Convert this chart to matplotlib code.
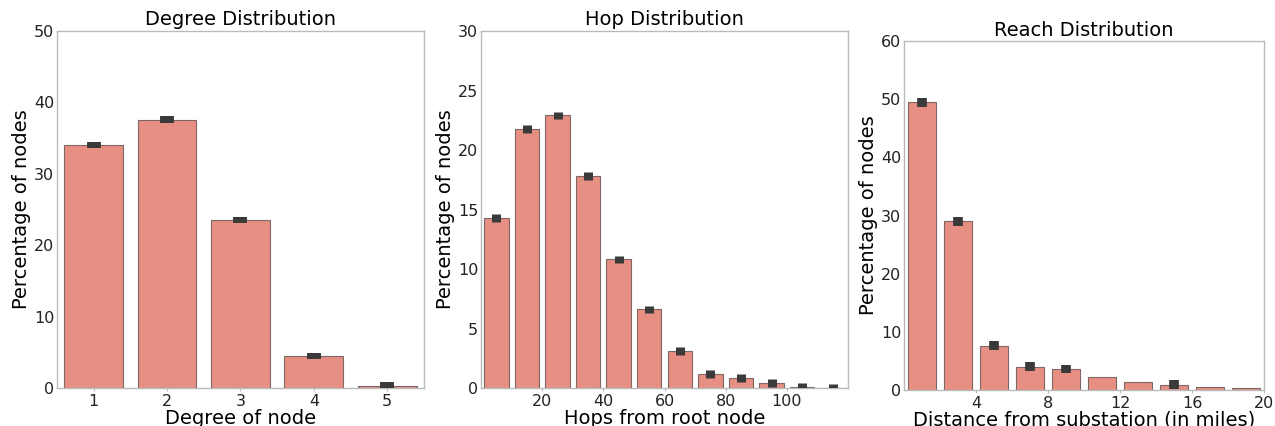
import matplotlib.pyplot as plt
import numpy as np

# degree distribution
deg_labels = ["1", "2", "3", "4", "5"]
deg_vals = [34.0, 37.6, 23.5, 4.5, 0.35]
deg_err = [0.45, 0.45, 0.45, 0.45, 0.45]

# hop distribution (bins of 10 hops)
hop_vals = [14.3, 21.8, 22.9, 17.8, 10.8, 6.6, 3.1, 1.2, 0.85, 0.4, 0.1, 0.03]
hop_err = [0.33] * 12
hop_ticks = ["20", "40", "60", "80", "100"]

# reach distribution (bins of 2 miles)
reach_vals = [49.5, 29.0, 7.6, 4.0, 3.6, 2.3, 1.4, 0.9, 0.6, 0.4]
reach_err = [0.75, 0.75, 0.75, 0.75, 0.75, 0, 0, 0.75, 0, 0]
reach_ticks = ["4", "8", "12", "16", "20"]

bar_color = "#e88f83"
edge_color = "#7d6663"
err_color = "#3a3a3a"
spine_color = "#bbbbbb"

fig = plt.figure(figsize=(12.75, 4.26), dpi=100)
ax1 = fig.add_axes([0.0447, 0.0892, 0.2878, 0.838])
ax2 = fig.add_axes([0.3773, 0.0892, 0.2878, 0.838])
ax3 = fig.add_axes([0.709, 0.0845, 0.2824, 0.819])


def draw(ax, vals, errs, lw):
	x = np.arange(len(vals))
	ax.bar(x, vals, width=0.8, color=bar_color, edgecolor=edge_color, linewidth=0.8, zorder=2)
	for xi, v, e in zip(x, vals, errs):
		if e > 0:
			ax.vlines(xi, v - e, v + e, color=err_color, linewidth=lw, zorder=3)
	ax.set_xlim(-0.5, len(vals) - 0.5)
	for s in ax.spines.values():
		s.set_color(spine_color)
		s.set_linewidth(1.0)
	ax.tick_params(axis="both", labelsize=11.5, colors="#222222", length=2, color=spine_color, pad=2)
	ax.tick_params(axis="y", length=0)


draw(ax1, deg_vals, deg_err, 10)
ax1.set_xticks(np.arange(5))
ax1.set_xticklabels(deg_labels)
ax1.set_ylim(0, 50)
ax1.set_yticks(range(0, 51, 10))
ax1.set_title("Degree Distribution", fontsize=14, pad=4)
ax1.set_xlabel("Degree of node", fontsize=14, labelpad=0)
ax1.set_ylabel("Percentage of nodes", fontsize=14, labelpad=2)

draw(ax2, hop_vals, hop_err, 6.5)
ax2.set_xticks(np.arange(1.5, 10, 2))
ax2.set_xticklabels(hop_ticks)
ax2.set_ylim(0, 30)
ax2.set_yticks(range(0, 31, 5))
ax2.set_title("Hop Distribution", fontsize=14, pad=4)
ax2.set_xlabel("Hops from root node", fontsize=14, labelpad=0)
ax2.set_ylabel("Percentage of nodes", fontsize=14, labelpad=2)

draw(ax3, reach_vals, reach_err, 7)
ax3.set_xticks(np.arange(1.5, 10, 2))
ax3.set_xticklabels(reach_ticks)
ax3.set_ylim(0, 60)
ax3.set_yticks(range(0, 61, 10))
ax3.set_title("Reach Distribution", fontsize=14, pad=4)
ax3.set_xlabel("Distance from substation (in miles)", fontsize=14, labelpad=0)
ax3.set_ylabel("Percentage of nodes", fontsize=14, labelpad=2)

fig.savefig("out.png", dpi=100)
